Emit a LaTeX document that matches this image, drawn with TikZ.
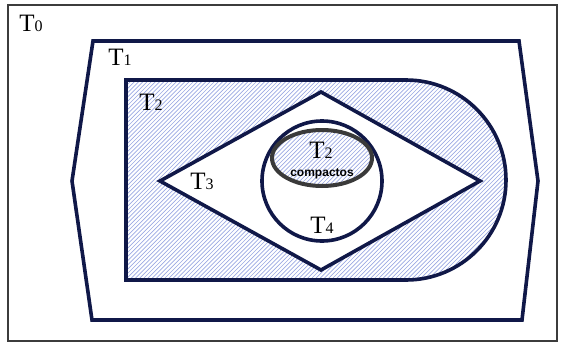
\documentclass[tikz,border=0pt]{standalone}
\usepackage{fontspec}
\setmainfont{Liberation Serif}
\newfontfamily\labelsans{Liberation Sans}
\definecolor{setline}{HTML}{101848}
\definecolor{hatchblue}{HTML}{9AA8E2}
\definecolor{framegray}{HTML}{3C3C3C}
\definecolor{compactgray}{HTML}{3A3A3A}
% a topology name: T with a smaller index on the baseline
\newcommand\topname[1]{T{\fontsize{16}{16}\selectfont #1}}
% diagonal hatching, to be used inside a clip
\newcommand\hatchlines{%
  \foreach \k in {-400,-395.8,...,600}
    \draw[hatchline] (\k,360) -- ++(380,-380);}
\begin{document}
\begin{tikzpicture}[x=1pt,y=-1pt,
  setedge/.style={draw=setline,line width=3.6pt,line join=miter},
  hatchline/.style={draw=hatchblue,line width=0.65pt},
  setlabel/.style={font=\fontsize{25}{25}\selectfont,inner sep=0pt,text=black}]
\useasboundingbox (0,0) rectangle (566,349);

% outer frame (T0)
\draw[framegray,line width=2.6pt] (8,5) rectangle (557,341);

% hexagon (T1)
\draw[setedge] (93,41) -- (519,41) -- (538,181) -- (522,320) -- (92,320) -- (72,181) -- cycle;

% hatched region T2: rounded rectangle minus the diamond
\begin{scope}[even odd rule]
  \clip
    (126,80) -- (406,80) arc[start angle=-90,end angle=90,radius=100] -- (126,280) -- cycle
    (160,181) -- (321,92) -- (480,181) -- (321,270) -- cycle;
  \hatchlines
\end{scope}
\draw[setedge] (126,80) -- (406,80) arc[start angle=-90,end angle=90,radius=100] -- (126,280) -- cycle;

% diamond (T3)
\draw[setedge] (160,181) -- (321,92) -- (480,181) -- (321,270) -- cycle;

% circle (T4)
\draw[setedge] (322,181) circle[radius=60];

% compact sets
\begin{scope}
  \clip (322,158) ellipse[x radius=50,y radius=28];
  \hatchlines
\end{scope}
\draw[compactgray,line width=4pt] (322,158) ellipse[x radius=50,y radius=28];

% labels
\node[setlabel] (t0) at (31,23) {\topname{0}};
\node[setlabel] (t1) at (120,57) {\topname{1}};
\node[setlabel] (t2) at (151,102) {\topname{2}};
\node[setlabel] (t3) at (202,181) {\topname{3}};
\node[setlabel] (t2c) at (321,150) {\topname{2}};
\node[font=\labelsans\bfseries\fontsize{12}{12}\selectfont,inner sep=0pt] (comp) at (322,174) {compactos};
\node[setlabel] (t4) at (322,225) {\topname{4}};
\end{tikzpicture}
\end{document}
